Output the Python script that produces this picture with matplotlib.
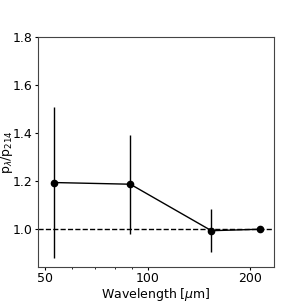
import matplotlib
matplotlib.use("Agg")
import matplotlib.pyplot as plt
from matplotlib.ticker import FixedLocator, FixedFormatter, NullFormatter

# HAWC+ bands
wavelength = [53, 89, 154, 214]
ratio = [1.194, 1.187, 0.994, 1.0]
ratio_err = [0.315, 0.206, 0.089, 0.0]

fig = plt.figure(figsize=(3.05, 3.05), dpi=100)
ax = fig.add_axes([0.125, 0.126, 0.773, 0.754])

ax.axhline(1.0, color='k', linestyle='--', linewidth=1)
ax.errorbar(wavelength, ratio, yerr=ratio_err, color='k', marker='o',
            markersize=4.5, linewidth=1, elinewidth=1)

ax.set_xscale('log')
ax.set_xlim(47.7, 235)
ax.set_ylim(0.845, 1.8)
ax.xaxis.set_major_locator(FixedLocator([50, 100, 200]))
ax.xaxis.set_major_formatter(FixedFormatter(['50', '100', '200']))
ax.xaxis.set_minor_formatter(NullFormatter())
ax.set_yticks([1.0, 1.2, 1.4, 1.6, 1.8])

ax.tick_params(which='major', labelsize=9, length=2.5, pad=1.5)
ax.tick_params(which='minor', length=1.5)
ax.set_xlabel(r'Wavelength [$\mu$m]', fontsize=9, labelpad=0.5)
ax.set_ylabel(r'p$_\lambda$/p$_{214}$', fontsize=9)
ax.yaxis.set_label_coords(-0.098, 0.5)
for s in ax.spines.values():
    s.set_color('#444444')

fig.savefig('out.png', dpi=100)
